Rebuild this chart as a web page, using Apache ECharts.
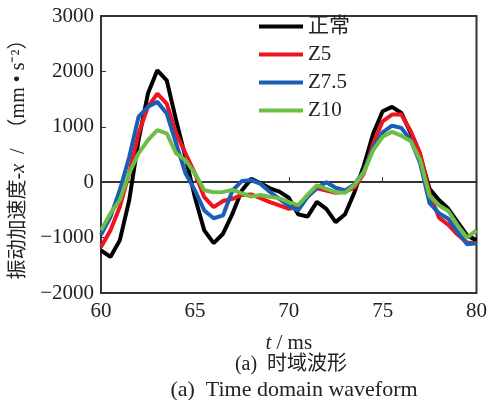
<!DOCTYPE html>
<html>
<head>
<meta charset="utf-8">
<script src="https://cdn.jsdelivr.net/npm/echarts@6/dist/echarts.min.js"></script>
<style>
  html, body { margin: 0; padding: 0; background: #fff; }
  #chart { width: 490px; height: 400px; }
</style>
</head>
<body>
<div id="chart"></div>
<script>
// time axis, ms (0.5 ms step)
var time = []
for (var k = 0; k <= 40; k++) time.push(60 + k * 0.5)

var seriesNames = ['正常', 'Z5', 'Z7.5', 'Z10']

var normalData = [-1230, -1350, -1050, -330, 760, 1600, 2020, 1840, 1120, 450,
  -270, -870, -1100, -930, -570, -150, 60, -20, -110, -170,
  -280, -580, -620, -355, -480, -720, -580, -180, 300, 880,
  1280, 1360, 1250, 880, 480, -120, -320, -480, -720, -960, -1050]
var z5Data = [-1170, -870, -446, 160, 880, 1360, 1600, 1420, 880, 520,
  160, -270, -450, -340, -300, -230, -220, -290, -360, -420,
  -480, -450, -265, -110, -150, -190, -170, -100, 160, 700,
  1100, 1220, 1220, 920, 520, -200, -640, -770, -950, -1090, -1100]
var z75Data = [-950, -630, -145, 450, 1180, 1360, 1450, 1240, 700, 160,
  -145, -510, -650, -600, -150, 20, 36, -30, -175, -300,
  -430, -510, -265, -100, 0, -100, -150, -40, 200, 620,
  900, 1020, 980, 760, 340, -380, -560, -660, -900, -1120, -1100]
var z10Data = [-870, -565, -325, 160, 520, 760, 940, 880, 520, 400,
  160, -145, -180, -175, -140, -200, -260, -230, -265, -290,
  -360, -415, -230, -55, -120, -180, -190, -50, 180, 580,
  820, 910, 840, 740, 400, -250, -415, -520, -780, -1000, -870]

var colors = ['#000000', '#f0141e', '#1a5eb5', '#6cbe45']
var allData = [normalData, z5Data, z75Data, z10Data]

var serif = 'Liberation Serif, Noto Sans CJK SC, serif'

function pairs(vals) {
  return vals.map(function (v, i) { return [time[i], v] })
}

var chart = echarts.init(document.getElementById('chart'))

chart.setOption({
  animation: false,
  textStyle: { fontFamily: serif },
  grid: {
    left: 101,
    right: 9,
    top: 16,
    bottom: 107,
    show: true,
    borderColor: '#333',
    borderWidth: 2
  },
  legend: {
    orient: 'vertical',
    left: 254,
    top: 11,
    icon: 'rect',
    itemWidth: 44,
    itemHeight: 4,
    itemGap: 7,
    data: seriesNames,
    textStyle: { fontFamily: serif, fontSize: 21, color: '#222' }
  },
  xAxis: {
    type: 'value',
    min: 60,
    max: 80,
    interval: 5,
    name: '{i|t} / ms',
    nameLocation: 'middle',
    nameGap: 40,
    nameTextStyle: {
      fontSize: 21,
      color: '#222',
      rich: { i: { fontStyle: 'italic', fontSize: 21, fontFamily: serif, color: '#222' } }
    },
    splitLine: { show: false },
    axisLine: { lineStyle: { color: '#333', width: 2 } },
    axisTick: { inside: true, length: 5, lineStyle: { color: '#333' } },
    axisLabel: { fontSize: 21, color: '#222', margin: 8 }
  },
  yAxis: {
    type: 'value',
    min: -2000,
    max: 3000,
    interval: 1000,
    name: '振动加速度-{i|x}  /  （mm • s⁻²）',
    nameLocation: 'middle',
    nameGap: 72,
    nameTextStyle: {
      fontSize: 20,
      color: '#222',
      rich: { i: { fontStyle: 'italic', fontSize: 20, fontFamily: serif, color: '#222' } }
    },
    splitLine: { show: false },
    axisLine: { lineStyle: { color: '#333', width: 2 } },
    axisTick: { inside: true, length: 5, lineStyle: { color: '#333' } },
    axisLabel: {
      fontSize: 21,
      color: '#222',
      margin: 7,
      formatter: function (v) { return String(v).replace('-', '−') }
    }
  },
  graphic: [
    {
      type: 'text',
      x: 291,
      y: 365,
      style: { text: '(a)  时域波形', font: '20px ' + serif, fill: '#222', align: 'center', verticalAlign: 'middle' }
    },
    {
      type: 'text',
      x: 294,
      y: 390,
      style: { text: '(a)  Time domain waveform', font: '22px ' + serif, fill: '#222', align: 'center', verticalAlign: 'middle' }
    }
  ],
  series: seriesNames.map(function (name, i) {
    return {
      name: name,
      type: 'line',
      data: pairs(allData[i]),
      showSymbol: false,
      symbol: 'none',
      color: colors[i],
      lineStyle: { width: 4, color: colors[i] }
    }
  })
})
</script>
</body>
</html>
